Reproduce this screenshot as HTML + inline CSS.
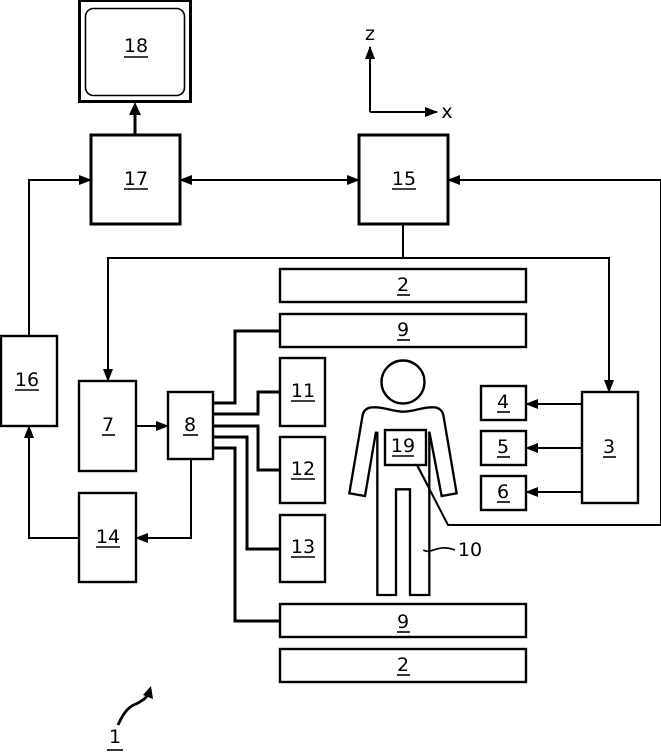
<!DOCTYPE html>
<html>
<head>
<meta charset="utf-8">
<style>
html,body{margin:0;padding:0;background:#fff}
svg{display:block}
text{font-family:"DejaVu Sans","Liberation Sans",sans-serif;font-size:19px;fill:#000;text-anchor:middle}
.b{fill:#fff;stroke:#000;stroke-width:3}
.t{fill:#fff;stroke:#000;stroke-width:2.4}
.l{fill:none;stroke:#000;stroke-width:2}
.k{fill:none;stroke:#000;stroke-width:3}
.u{stroke:#000;stroke-width:1.6}
</style>
</head>
<body>
<svg width="661" height="752" viewBox="0 0 661 752" xmlns="http://www.w3.org/2000/svg">
<defs>
<marker id="a" markerWidth="14" markerHeight="10" refX="12" refY="5" orient="auto-start-reverse" markerUnits="userSpaceOnUse">
<path d="M0 0L13 5L0 10z" fill="#000"/>
</marker>
</defs>

<!-- connectors -->
<path class="k" d="M135 135V112"/>
<path d="M135 102L141 115H129z" fill="#000"/>
<path class="l" d="M29 336V180H91" marker-end="url(#a)"/>
<path class="l" d="M180 180H359" marker-start="url(#a)" marker-end="url(#a)"/>
<path class="l" d="M403 224V258"/>
<path class="l" d="M403 258H108V381" marker-end="url(#a)"/>
<path class="l" d="M403 258H609V392" marker-end="url(#a)"/>
<path class="l" d="M417 465L448 525H661V180H448" marker-end="url(#a)"/>
<path class="l" d="M136 426H168" marker-end="url(#a)"/>
<path class="l" d="M191 459V538H136" marker-end="url(#a)"/>
<path class="l" d="M79 538H29V426" marker-end="url(#a)"/>
<path class="l" d="M582 404H526" marker-end="url(#a)"/>
<path class="l" d="M582 448H526" marker-end="url(#a)"/>
<path class="l" d="M582 492H526" marker-end="url(#a)"/>
<path class="l" d="M370 112V47" marker-end="url(#a)"/>
<path class="l" d="M370 112H437" marker-end="url(#a)"/>
<path class="k" d="M213 403H235V331H280"/>
<path class="k" d="M213 414H258V392H280"/>
<path class="k" d="M213 426H258V470H280"/>
<path class="k" d="M213 437H247V549H280"/>
<path class="k" d="M213 448H235V621H280"/>

<!-- boxes -->
<rect class="b" x="79.500" y="0.500" width="111" height="101"/>
<rect x="85.500" y="8.500" width="99" height="87" rx="8" fill="#fff" stroke="#000" stroke-width="1.600"/>
<rect class="b" x="91" y="135" width="89" height="89"/>
<rect class="b" x="359" y="135" width="89" height="89"/>
<rect class="t" x="280" y="269" width="246" height="33"/>
<rect class="t" x="280" y="314" width="246" height="33"/>
<rect class="t" x="280" y="604" width="246" height="33"/>
<rect class="t" x="280" y="649" width="246" height="33"/>
<rect class="t" x="1" y="336" width="56" height="90"/>
<rect class="t" x="79" y="381" width="57" height="90"/>
<rect class="t" x="168" y="392" width="45" height="67"/>
<rect class="t" x="79" y="493" width="57" height="89"/>
<rect class="t" x="280" y="358" width="45" height="68"/>
<rect class="t" x="280" y="437" width="45" height="66"/>
<rect class="t" x="280" y="515" width="45" height="67"/>
<rect class="t" x="582" y="392" width="56" height="111"/>
<rect class="t" x="481" y="386" width="45" height="34"/>
<rect class="t" x="481" y="431" width="45" height="34"/>
<rect class="t" x="481" y="476" width="45" height="34"/>

<!-- person -->
<circle cx="403" cy="382" r="21.500" fill="#fff" stroke="#000" stroke-width="2.400"/>
<g transform="translate(340 350) scale(.33333)" fill="none" stroke="#000" stroke-width="7">
<path d="M108 245L75 438L28 430L68 195C72 178 85 172 100 172C130 170 160 185 190 185C220 185 250 170 280 172C295 172 306 180 310 195L350 430L305 438L268 245"/>
<path d="M112 245V735H168V418H210V735H268V245"/>
<path d="M250 600C275 615 290 580 345 600" stroke-width="5"/>
</g>
<rect class="t" x="385" y="430" width="41" height="35"/>
<path class="l" d="M417 465L428 486"/>

<!-- reference 1 arrow -->
<path d="M118 725C128 702 136 706 141 701Q147 698 149 692" fill="none" stroke="#000" stroke-width="2.800"/>
<path d="M151 686L153 699L143 695z" fill="#000"/>

<!-- labels -->
<text x="136" y="52">18</text><line class="u" x1="124" x2="148" y1="57" y2="57"/>
<text x="136" y="185">17</text><line class="u" x1="124" x2="148" y1="189" y2="189"/>
<text x="404" y="185">15</text><line class="u" x1="392" x2="416" y1="189" y2="189"/>
<text x="403" y="291">2</text><line class="u" x1="397" x2="410" y1="295" y2="295"/>
<text x="403" y="336">9</text><line class="u" x1="397" x2="410" y1="340" y2="340"/>
<text x="403" y="628">9</text><line class="u" x1="397" x2="410" y1="632" y2="632"/>
<text x="403" y="671">2</text><line class="u" x1="397" x2="410" y1="675" y2="675"/>
<text x="27" y="386">16</text><line class="u" x1="15" x2="39" y1="390" y2="390"/>
<text x="108" y="431">7</text><line class="u" x1="102" x2="115" y1="435" y2="435"/>
<text x="190" y="431">8</text><line class="u" x1="183" x2="198" y1="435" y2="435"/>
<text x="108" y="543">14</text><line class="u" x1="96" x2="120" y1="547" y2="547"/>
<text x="303" y="397">11</text><line class="u" x1="291" x2="315" y1="401" y2="401"/>
<text x="303" y="475">12</text><line class="u" x1="291" x2="315" y1="479" y2="479"/>
<text x="303" y="553">13</text><line class="u" x1="291" x2="315" y1="557" y2="557"/>
<text x="403" y="452">19</text><line class="u" x1="392" x2="414" y1="456" y2="456"/>
<text x="609" y="453">3</text><line class="u" x1="603" x2="616" y1="457" y2="457"/>
<text x="503" y="408">4</text><line class="u" x1="497" x2="510" y1="412" y2="412"/>
<text x="503" y="453">5</text><line class="u" x1="497" x2="510" y1="457" y2="457"/>
<text x="503" y="498">6</text><line class="u" x1="497" x2="510" y1="502" y2="502"/>
<text x="470" y="556">10</text>
<text x="115" y="743">1</text><line class="u" x1="107" x2="123" y1="750" y2="750"/>
<text x="370" y="40">z</text>
<text x="447" y="118">x</text>
</svg>
</body>
</html>
